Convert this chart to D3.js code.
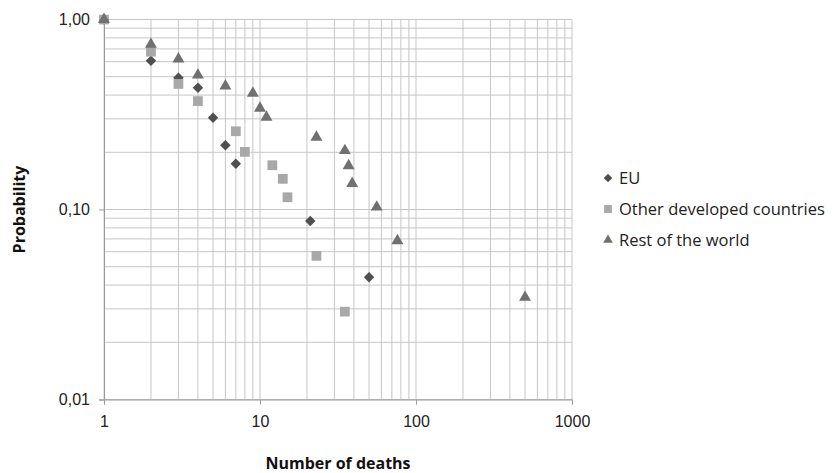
<!DOCTYPE html>
<html>
<head>
<meta charset="utf-8">
<script src="https://cdn.jsdelivr.net/npm/d3@7"></script>
<style>
  body { margin: 0; background: #fff; }
  svg { display: block; font-family: "Open Sans", "Noto Sans", sans-serif; }
</style>
</head>
<body>
<svg id="chart" width="838" height="473"></svg>
<script>
// data: [number of deaths, probability]
const euPoints = [[1, 1.0], [2, 0.607], [3, 0.494], [4, 0.437], [5, 0.304], [6, 0.218], [7, 0.174], [21, 0.087], [50, 0.044]];
const otherPoints = [[1, 1.0], [2, 0.677], [3, 0.458], [4, 0.372], [7, 0.258], [8, 0.201], [12, 0.171], [14, 0.145], [15, 0.116], [23, 0.057], [35, 0.029]];
const restPoints = [[1, 1.0], [2, 0.74], [3, 0.62], [4, 0.51], [6, 0.447], [9, 0.409], [10, 0.341], [11, 0.306], [23, 0.24], [35, 0.204], [37, 0.17], [39, 0.137], [56, 0.103], [76, 0.0685], [500, 0.0345]];
const seriesNames = ['EU', 'Other developed countries', 'Rest of the world'];
const xTicks = [1, 10, 100, 1000];
const yTicks = [0.01, 0.1, 1];
const yTickLabels = ['0,01', '0,10', '1,00'];

const svg = d3.select('#chart');
const margin = { top: 19.5, left: 104, right: 266, bottom: 73.5 };
const width = 838 - margin.left - margin.right;
const height = 473 - margin.top - margin.bottom;

const x = d3.scaleLog().domain([1, 1000]).range([0, width]);
const y = d3.scaleLog().domain([0.01, 1]).range([height, 0]);

const g = svg.append('g').attr('transform', `translate(${margin.left},${margin.top})`);

// grid (all minor lines of the log scale)
const xGrid = d3.range(0, 3).flatMap(e => d3.range(1, 10).map(m => m * Math.pow(10, e))).concat([1000]);
const yGrid = d3.range(-2, 0).flatMap(e => d3.range(1, 10).map(m => m * Math.pow(10, e))).concat([1]);

g.append('g').selectAll('line').data(xGrid).enter().append('line')
  .attr('x1', d => x(d)).attr('x2', d => x(d))
  .attr('y1', 0).attr('y2', height)
  .attr('stroke', '#c6c6c6').attr('stroke-width', 1);
g.append('g').selectAll('line').data(yGrid).enter().append('line')
  .attr('x1', 0).attr('x2', width)
  .attr('y1', d => y(d)).attr('y2', d => y(d))
  .attr('stroke', '#c6c6c6').attr('stroke-width', 1);

// axes
const xAxis = g.append('g').attr('transform', `translate(0,${height})`)
  .call(d3.axisBottom(x).tickValues(xTicks).tickFormat(d3.format('d')).tickSize(5).tickPadding(11));
const yAxis = g.append('g')
  .call(d3.axisLeft(y).tickValues(yTicks).tickFormat((d, i) => yTickLabels[i]).tickSize(5).tickPadding(9));
[xAxis, yAxis].forEach(a => {
  a.select('.domain').attr('stroke', '#999');
  a.selectAll('.tick line').attr('stroke', '#999');
  a.selectAll('text').attr('fill', '#222').style('font-size', '16px');
});

// markers
const seriesData = [euPoints, otherPoints, restPoints];
const symbols = [d3.symbolDiamond2, d3.symbolSquare, d3.symbolTriangle];
const fills = ['#4f4f4f', '#a8a8a8', '#707070'];
const sizes = [70, 95, 62];

seriesData.forEach((pts, i) => {
  g.append('g').selectAll('path').data(pts).enter().append('path')
    .attr('transform', d => `translate(${x(d[0])},${y(d[1])})`)
    .attr('d', d3.symbol().type(symbols[i]).size(sizes[i]))
    .attr('fill', fills[i]);
});

// axis titles
svg.append('text').attr('x', margin.left + width / 2).attr('y', 469)
  .attr('text-anchor', 'middle').style('font-size', '16px').style('font-weight', 'bold')
  .attr('fill', '#111').text('Number of deaths');
svg.append('text').attr('transform', `translate(25,${margin.top + height / 2}) rotate(-90)`)
  .attr('text-anchor', 'middle').style('font-size', '16px').style('font-weight', 'bold')
  .attr('fill', '#111').text('Probability');

// legend
const legend = svg.append('g').attr('transform', 'translate(608,178)');
const legendItems = legend.selectAll('g').data(seriesNames).enter().append('g')
  .attr('transform', (d, i) => `translate(0,${i * 31})`);
legendItems.append('path')
  .attr('d', (d, i) => d3.symbol().type(symbols[i]).size(sizes[i] * 0.65)())
  .attr('fill', (d, i) => fills[i]);
legendItems.append('text').attr('x', 11).attr('dy', '0.35em')
  .style('font-size', '16.5px').attr('fill', '#222').text(d => d);
</script>
</body>
</html>
